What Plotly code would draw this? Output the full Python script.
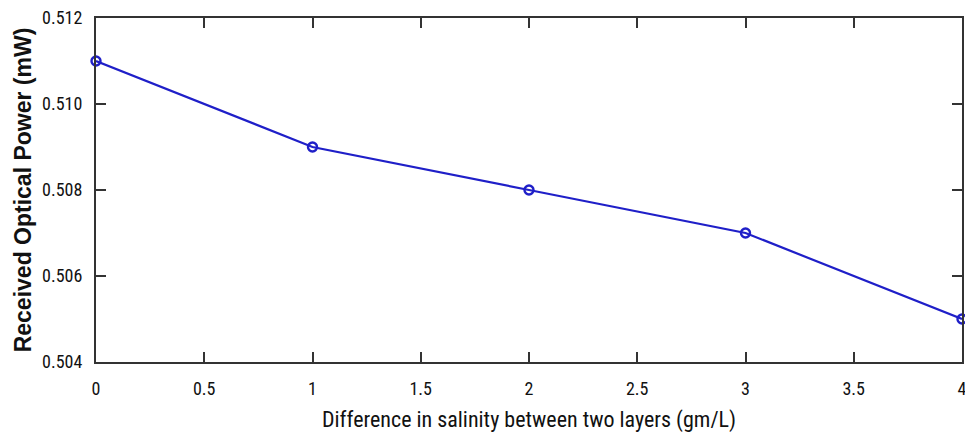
import plotly.graph_objects as go

salinity = [0, 1, 2, 3, 4]
power_mw = [0.511, 0.509, 0.508, 0.507, 0.505]
x_ticks = [0, 0.5, 1, 1.5, 2, 2.5, 3, 3.5, 4]
x_tick_labels = ["0", "0.5", "1", "1.5", "2", "2.5", "3", "3.5", "4"]
y_ticks = [0.504, 0.506, 0.508, 0.510, 0.512]
y_tick_labels = ["0.504", "0.506", "0.508", "0.510", "0.512"]

font_tick = "Liberation Sans Narrow, Roboto Condensed, Arial Narrow, Liberation Sans, Arial, sans-serif"

fig = go.Figure()
fig.add_trace(go.Scatter(
    x=salinity, y=power_mw, mode="lines+markers",
    line=dict(color="#1f1fc8", width=2.2),
    marker=dict(symbol="circle-open", size=9, color="#1f1fc8", line=dict(width=2.4)),
    cliponaxis=False, showlegend=False,
))

axis_common = dict(
    showline=True, linecolor="#333333", linewidth=2, mirror="ticks",
    ticks="inside", ticklen=10, tickwidth=2, tickcolor="#333333",
    showgrid=False, zeroline=False, ticklabeloverflow="allow",
    tickfont=dict(family=font_tick, size=18, color="#111111"),
)

fig.update_xaxes(
    range=[0, 4], tickvals=x_ticks, ticktext=x_tick_labels,
    title=dict(text="Difference in salinity between two layers (gm/L)",
               font=dict(family=font_tick, size=22, color="#111111"), standoff=14),
    ticklabelstandoff=9,
    **axis_common,
)
fig.update_yaxes(
    range=[0.504, 0.512], tickvals=y_ticks, ticktext=y_tick_labels,
    title=dict(text="<b>Received Optical Power (mW)</b>",
               font=dict(family="Liberation Sans, Arial, sans-serif", size=23, color="#111111"), standoff=4),
    ticklabelstandoff=8,
    **axis_common,
)

fig.update_layout(
    width=965, height=433,
    margin=dict(l=96, r=3, t=18, b=71, autoexpand=False),
    paper_bgcolor="white", plot_bgcolor="white",
)

fig.write_html("out.html", config={"displayModeBar": False},
               post_script="document.body.style.margin='0';document.body.style.overflow='hidden';")
